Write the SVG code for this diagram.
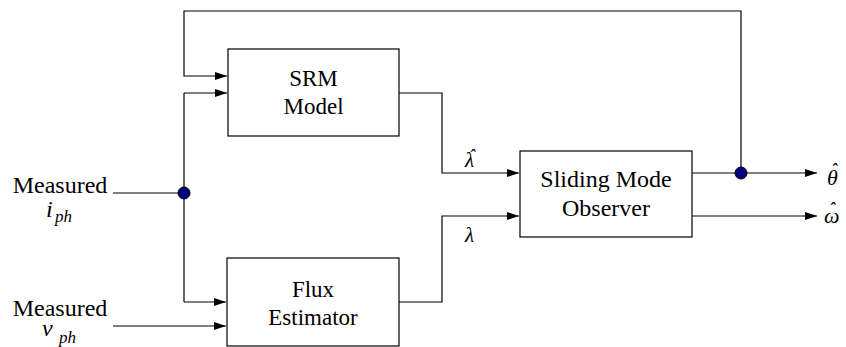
<svg xmlns="http://www.w3.org/2000/svg" width="846" height="347" viewBox="0 0 846 347">
  <defs>
    <marker id="arrow" markerUnits="userSpaceOnUse" markerWidth="13" markerHeight="9" refX="12" refY="4" orient="auto">
      <path d="M0,0 L12,4 L0,8 z" fill="#000000"/>
    </marker>
  </defs>

  <rect width="846" height="347" fill="#ffffff"/>

  <!-- signal lines -->
  <g id="connectors" fill="none" stroke="#000000" stroke-width="1.2">
    <path d="M741,173 L741,11 L184,11 L184,76 L227,76" marker-end="url(#arrow)"/>
    <path d="M113,193 L184,193"/>
    <path d="M184,93 L184,302"/>
    <path d="M184,93 L227,93" marker-end="url(#arrow)"/>
    <path d="M184,302 L226,302" marker-end="url(#arrow)"/>
    <path d="M113,326 L226,326" marker-end="url(#arrow)"/>
    <path d="M399,93 L442,93 L442,173 L519,173" marker-end="url(#arrow)"/>
    <path d="M399,302 L442,302 L442,216 L519,216" marker-end="url(#arrow)"/>
    <path d="M692,173 L817,173" marker-end="url(#arrow)"/>
    <path d="M692,216 L817,216" marker-end="url(#arrow)"/>
    <circle cx="184" cy="193" r="6" fill="#000080" stroke-width="1"/>
    <circle cx="741" cy="173" r="6" fill="#000080" stroke-width="1"/>
  </g>

  <!-- measured inputs -->
  <g id="input-current" fill="#000000">
    <text style="font-family: 'Liberation Serif', serif" x="60" y="193" font-size="24" text-anchor="middle">Measured</text>
    <text style="font-family: 'Liberation Serif', serif" font-style="italic" x="46" y="217" font-size="24">i</text>
    <text style="font-family: 'Liberation Serif', serif" font-style="italic" x="55" y="222" font-size="17">ph</text>
  </g>
  <g id="input-voltage" fill="#000000">
    <text style="font-family: 'Liberation Serif', serif" x="60" y="316" font-size="24" text-anchor="middle">Measured</text>
    <text style="font-family: 'Liberation Serif', serif" font-style="italic" x="42" y="336" font-size="24">v</text>
    <text style="font-family: 'Liberation Serif', serif" font-style="italic" x="59" y="343" font-size="17">ph</text>
  </g>

  <!-- blocks -->
  <g id="srm-model">
    <rect x="228" y="49" width="171" height="87" fill="#ffffff" stroke="#000000" stroke-width="1.2"/>
    <text style="font-family: 'Liberation Serif', serif" x="313.5" y="86" font-size="23" text-anchor="middle">SRM</text>
    <text style="font-family: 'Liberation Serif', serif" x="313.5" y="114" font-size="23" text-anchor="middle">Model</text>
  </g>
  <g id="flux-estimator">
    <rect x="227" y="258" width="172" height="88" fill="#ffffff" stroke="#000000" stroke-width="1.2"/>
    <text style="font-family: 'Liberation Serif', serif" x="313" y="297" font-size="23" text-anchor="middle">Flux</text>
    <text style="font-family: 'Liberation Serif', serif" x="313" y="325" font-size="23" text-anchor="middle">Estimator</text>
  </g>
  <g id="sliding-mode-observer">
    <rect x="520" y="151" width="172" height="86" fill="#ffffff" stroke="#000000" stroke-width="1.2"/>
    <text style="font-family: 'Liberation Serif', serif" x="606" y="187" font-size="24" text-anchor="middle">Sliding Mode</text>
    <text style="font-family: 'Liberation Serif', serif" x="606" y="216" font-size="24" text-anchor="middle">Observer</text>
  </g>

  <!-- signal names: lambda-hat, lambda, theta-hat, omega-hat (hat set as a separate accent) -->
  <g id="flux-hat">
    <text style="font-family: 'Liberation Serif', serif" font-style="italic" x="465" y="167" font-size="21">&#955;</text>
    <text style="font-family: 'Liberation Serif', serif" font-style="italic" x="469" y="162" font-size="18">&#710;</text>
  </g>
  <g id="flux">
    <text style="font-family: 'Liberation Serif', serif" font-style="italic" x="465" y="242" font-size="21">&#955;</text>
  </g>
  <g id="theta-hat">
    <text style="font-family: 'Liberation Serif', serif" font-style="italic" x="827" y="185" font-size="22">&#952;</text>
    <text style="font-family: 'Liberation Serif', serif" font-style="italic" x="831" y="176" font-size="18">&#710;</text>
  </g>
  <g id="omega-hat">
    <text style="font-family: 'Liberation Serif', serif" font-style="italic" x="824" y="223" font-size="22">&#969;</text>
    <text style="font-family: 'Liberation Serif', serif" font-style="italic" x="829" y="215" font-size="18">&#710;</text>
  </g>
</svg>
